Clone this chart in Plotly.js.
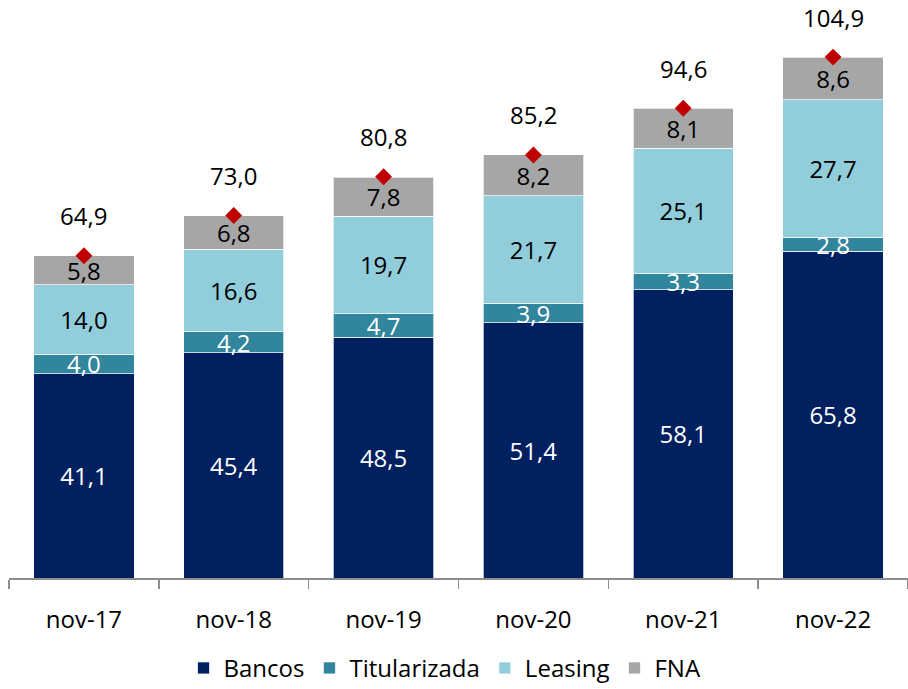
<!DOCTYPE html>
<html>
<head>
<meta charset="utf-8">
<script src="https://cdn.plot.ly/plotly-3.0.1.min.js"></script>
<style>html,body{margin:0;padding:0;background:#fff;}#chart{width:908px;height:689px;}</style>
</head>
<body>
<div id="chart"></div>
<script>
const categories = ["nov-17","nov-18","nov-19","nov-20","nov-21","nov-22"];
const bancos = [41.1, 45.4, 48.5, 51.4, 58.1, 65.8];
const titularizada = [4.0, 4.2, 4.7, 3.9, 3.3, 2.8];
const leasing = [14.0, 16.6, 19.7, 21.7, 25.1, 27.7];
const fna = [5.8, 6.8, 7.8, 8.2, 8.1, 8.6];
const totals = [64.9, 73.0, 80.8, 85.2, 94.6, 104.9];

const fmt = v => v.toFixed(1).replace('.', ',');
const FONT = "'Open Sans', 'Noto Sans', sans-serif";
const FS = 24;

function barTrace(name, vals, color, txtColor) {
  return {
    type: 'bar', name: name, x: categories, y: vals,
    marker: {color: color, line: {color: 'rgba(255,255,255,0.7)', width: 1}},
    text: vals.map(fmt), textposition: 'inside', insidetextanchor: 'middle',
    textfont: {color: txtColor, size: FS, family: FONT},
    constraintext: 'none', hoverinfo: 'skip'
  };
}

const traces = [
  barTrace('Bancos', bancos, '#002060', '#ffffff'),
  barTrace('Titularizada', titularizada, '#31859C', '#ffffff'),
  barTrace('Leasing', leasing, '#92CDDC', '#000000'),
  barTrace('FNA', fna, '#A6A6A6', '#000000'),
  {
    type: 'scatter', mode: 'markers', x: categories, y: totals, showlegend: false,
    marker: {symbol: 'diamond', size: 13, color: '#C00000'}, hoverinfo: 'skip'
  }
];

const annotations = categories.map((c, i) => ({
  x: c, y: totals[i], xref: 'x', yref: 'y', text: fmt(totals[i]),
  showarrow: false, yshift: 40, font: {size: FS, color: '#000', family: FONT}
}));

const layout = {
  width: 908, height: 689,
  margin: {l: 9, r: 0, t: 0, b: 111, autoexpand: false},
  barmode: 'stack', bargap: 0.33,
  paper_bgcolor: '#fff', plot_bgcolor: '#fff',
  font: {family: FONT, size: FS, color: '#000'},
  uniformtext: {mode: 'show', minsize: FS},
  xaxis: {
    type: 'category', showline: true, linecolor: '#8c8c8c', linewidth: 1.5,
    ticks: 'outside', tickson: 'boundaries', ticklen: 9, tickcolor: '#8c8c8c', tickwidth: 1.5,
    showgrid: false, ticklabelstandoff: 20, automargin: false,
    tickfont: {size: FS, color: '#000', family: FONT}
  },
  yaxis: {range: [0, 116.4], visible: false, showgrid: false, zeroline: false},
  showlegend: true,
  legend: {
    orientation: 'h', x: 0.485, xanchor: 'center', yref: 'container', y: 0.03, yanchor: 'middle',
    font: {size: FS, color: '#000', family: FONT}, traceorder: 'normal'
  },
  annotations: annotations
};

Plotly.newPlot('chart', traces, layout, {displayModeBar: false, staticPlot: true});
</script>
</body>
</html>
